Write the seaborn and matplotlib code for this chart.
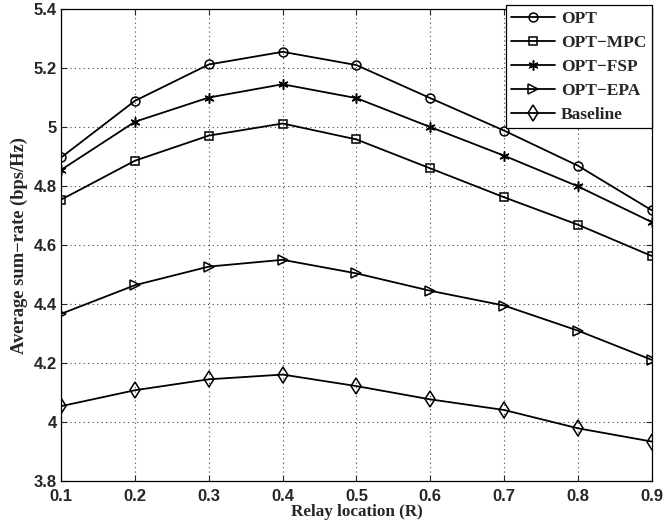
import numpy as np
import pandas as pd
import matplotlib
matplotlib.use("Agg")
import matplotlib.pyplot as plt
import seaborn as sns

# relay location (fraction of R)
relay_loc = [0.1, 0.2, 0.3, 0.4, 0.5, 0.6, 0.7, 0.8, 0.9]

# average sum-rate (bps/Hz)
opt = [4.897, 5.089, 5.212, 5.255, 5.210, 5.098, 4.988, 4.869, 4.718]
opt_mpc = [4.754, 4.886, 4.971, 5.012, 4.958, 4.860, 4.762, 4.669, 4.563]
opt_fsp = [4.855, 5.018, 5.100, 5.145, 5.098, 5.000, 4.903, 4.799, 4.678]
opt_epa = [4.367, 4.464, 4.527, 4.550, 4.504, 4.445, 4.395, 4.310, 4.211]
baseline = [4.054, 4.108, 4.145, 4.161, 4.122, 4.077, 4.041, 3.979, 3.934]

series_names = ["OPT", "OPT\u2212MPC", "OPT\u2212FSP", "OPT\u2212EPA", "Baseline"]
series_vals = [opt, opt_mpc, opt_fsp, opt_epa, baseline]
markers = ["o", "s", (6, 2, 0), ">", "d"]
msizes = [8, 7, 9, 9, 10]

df = pd.DataFrame({
    "R": relay_loc * len(series_names),
    "rate": np.concatenate(series_vals),
    "scheme": np.repeat(series_names, len(relay_loc)),
})

sns.set_style("ticks")
fig = plt.figure(figsize=(6.65, 5.31), dpi=100)
ax = fig.add_axes([0.092, 0.094, 0.888, 0.889])

for name, mk, ms in zip(series_names, markers, msizes):
    sub = df[df["scheme"] == name]
    sns.lineplot(data=sub, x="R", y="rate", ax=ax, color="black", lw=1.3,
                 marker=mk, markersize=ms, markerfacecolor="none",
                 markeredgecolor="black", markeredgewidth=1.1, label=name)

ax.set_xlim(0.1, 0.9)
ax.set_ylim(3.8, 5.4)
ax.set_xticks(relay_loc)
ax.set_xticklabels([f"{v:g}" for v in relay_loc])
yt = [3.8, 4.0, 4.2, 4.4, 4.6, 4.8, 5.0, 5.2, 5.4]
ax.set_yticks(yt)
ax.set_yticklabels([f"{v:g}" for v in yt])
ax.grid(True, linestyle=(0, (1, 3)), color="#444444", lw=0.8)
ax.tick_params(direction="in", top=True, right=True, length=4, width=0.8, pad=3)
ax.tick_params(axis="x", pad=6)
for lbl in ax.get_xticklabels() + ax.get_yticklabels():
    lbl.set_fontfamily("Liberation Sans")
    lbl.set_fontweight("bold")
    lbl.set_fontsize(12)
for sp in ax.spines.values():
    sp.set_color("black")
    sp.set_linewidth(0.9)

ax.set_xlabel("Relay location (R)", family="Liberation Serif",
              fontweight="bold", fontsize=12.3, labelpad=0)
ax.set_ylabel("Average sum\u2212rate (bps/Hz)", family="Liberation Serif",
              fontweight="bold", fontsize=13.3, labelpad=4)

handles, labels = ax.get_legend_handles_labels()
for h in handles:
    h.set_markersize(h.get_markersize() * 0.8)
leg = ax.legend(handles, labels, loc="upper right", bbox_to_anchor=(1.0, 1.008),
                frameon=True, fancybox=False, edgecolor="black", framealpha=1,
                prop={"family": "Liberation Serif", "weight": "bold", "size": 12.5},
                handlelength=2.5, handletextpad=0.35, borderpad=0.32,
                labelspacing=0.45, borderaxespad=0)
leg.get_frame().set_linewidth(0.9)

fig.savefig("out.png", dpi=100)
